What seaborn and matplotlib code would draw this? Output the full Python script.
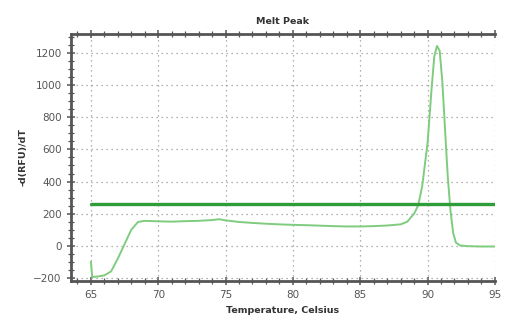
import matplotlib
matplotlib.use("Agg")
import matplotlib.pyplot as plt
from matplotlib.ticker import MultipleLocator
import pandas as pd
import seaborn as sns

# melt peak curve
temps = [65.0, 65.1, 65.5, 66.0, 66.5, 67.0, 67.5, 68.0, 68.5, 69.0, 70.0, 71.0,
         72.0, 73.0, 74.0, 74.5, 75.0, 76.0, 77.0, 78.0, 79.0, 80.0, 81.0, 82.0,
         83.0, 84.0, 85.0, 86.0, 87.0, 88.0, 88.5, 89.0, 89.3, 89.6, 90.0, 90.3,
         90.5, 90.7, 90.9, 91.1, 91.3, 91.5, 91.7, 91.9, 92.1, 92.4, 93.0, 94.0, 95.0]
rfu = [-100, -195, -192, -185, -160, -80, 10, 100, 148, 155, 152, 150,
       153, 155, 160, 165, 158, 148, 142, 137, 133, 130, 128, 125,
       122, 120, 120, 122, 126, 133, 150, 200, 250, 370, 640, 980,
       1180, 1245, 1215, 1020, 720, 430, 220, 80, 20, 2, -3, -5, -5]
threshold = 262

df = pd.DataFrame({"Temperature": temps, "RFU": rfu})

sns.set_style("white")
fig, ax = plt.subplots(figsize=(5.05, 3.23), dpi=100)

sns.lineplot(data=df, x="Temperature", y="RFU", ax=ax, color="#7fcc7f", linewidth=1.4)
ax.axhline(threshold, xmin=(65 - 63.5) / 31.5, xmax=1, color="#2f9e3a", linewidth=2.4)

ax.set_xlim(63.5, 95)
ax.set_ylim(-220, 1320)
ax.xaxis.set_major_locator(MultipleLocator(5))
ax.xaxis.set_minor_locator(MultipleLocator(1))
ax.yaxis.set_major_locator(MultipleLocator(200))
ax.yaxis.set_minor_locator(MultipleLocator(50))
ax.grid(True, which="major", linestyle=(0, (1, 3)), color="#999999", linewidth=0.9)

ax.tick_params(which="major", direction="inout", length=6, width=1.1, colors="#555555",
               labelsize=7.5, labelcolor="#555555", top=True, bottom=True, left=True)
ax.tick_params(which="minor", direction="inout", length=4, width=0.9, colors="#555555",
               top=True, bottom=True, left=True)
ax.tick_params(axis="x", which="both", labeltop=False)

for side in ["left", "bottom", "top"]:
    ax.spines[side].set_color("#555555")
    ax.spines[side].set_linewidth(2)
ax.spines["right"].set_visible(False)

ax.set_title("Melt Peak", fontsize=6.8, fontweight="bold", color="#333333", pad=7)
ax.set_xlabel("Temperature, Celsius", fontsize=6.8, fontweight="bold", color="#333333")
ax.set_ylabel("-d(RFU)/dT", fontsize=6.8, fontweight="bold", color="#333333")

plt.subplots_adjust(left=0.14, right=0.98, top=0.895, bottom=0.13)
plt.savefig("out.png", dpi=100)
